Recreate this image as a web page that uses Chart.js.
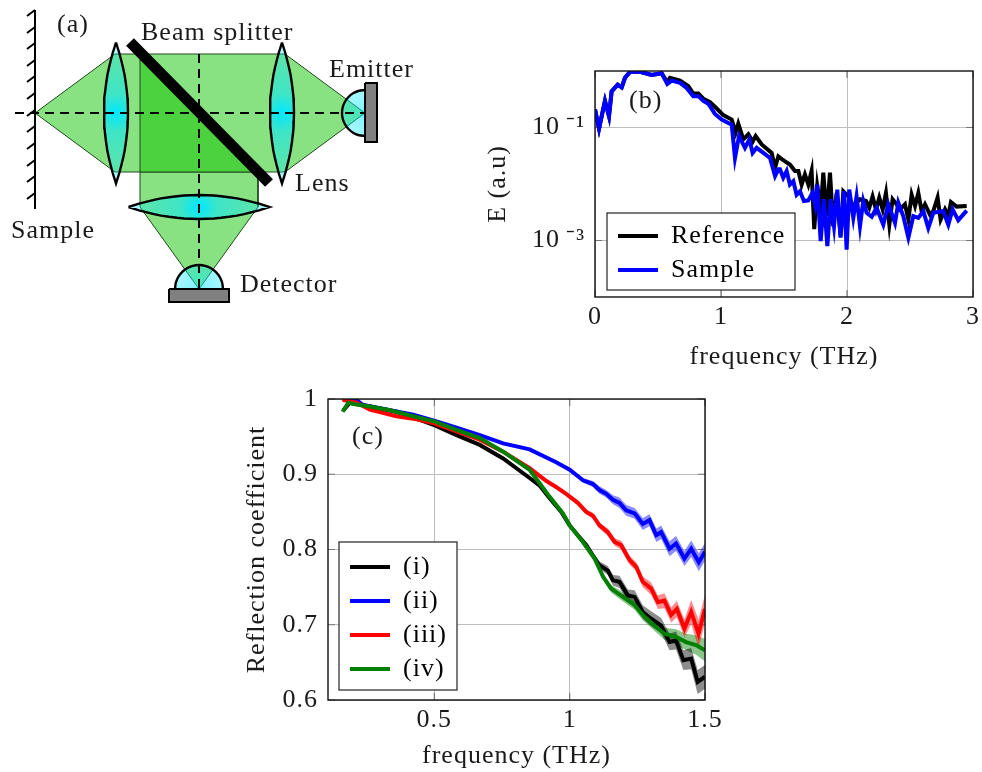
<!DOCTYPE html>
<html><head><meta charset="utf-8">
<script src="https://cdn.jsdelivr.net/npm/chart.js@4"></script>
<style>
html,body{margin:0;padding:0;background:#fff;overflow:hidden;width:982px;height:772px}
canvas{position:absolute;display:block}
</style></head><body>
<canvas id="diagram" style="left:0;top:0" width="440" height="310"></canvas>
<canvas id="spectrum" style="left:483px;top:41px" width="522" height="332"></canvas>
<canvas id="reflect" style="left:242px;top:369px" width="493" height="403"></canvas>
<script>
// ---------- panel (b): spectrum (log10 of E) ----------
const refFreq = [0,.032,.079,.111,.132,.180,.212,.238,.278,.357,.450,.529,.574,.595,.675,.741,.780,.820,.860,.913,.960,1.018,1.085,1.116,1.137,1.177,1.217,1.251,1.275,1.323,1.402,1.429,1.455,1.489,1.508,1.547,1.587,1.614,1.640,1.666,1.693,1.719,1.740,1.764,1.791,1.812,1.838,1.865,1.891,1.918,1.949,1.971,2.010,2.050,2.103,2.151,2.177,2.203,2.230,2.256,2.283,2.309,2.336,2.362,2.394,2.420,2.460,2.487,2.513,2.540,2.566,2.592,2.619,2.658,2.685,2.719,2.743,2.778,2.804,2.825,2.870,2.950];
const refLogE = [-.68,-1.02,-.53,-.80,-.36,-.24,-.29,-.12,-.015,-.015,-.07,-.04,-.20,-.12,-.17,-.27,-.40,-.40,-.49,-.55,-.65,-.78,-.86,-1.09,-.93,-1.21,-1.12,-1.25,-1.15,-1.30,-1.45,-1.71,-1.51,-1.57,-1.60,-1.655,-1.77,-1.77,-2.01,-1.83,-2.01,-1.77,-2.80,-2.04,-2.45,-1.80,-2.57,-1.80,-2.75,-2.16,-2.92,-2.13,-2.22,-2.39,-2.27,-2.30,-2.42,-2.22,-2.45,-2.24,-2.45,-2.16,-2.72,-2.27,-2.36,-2.45,-2.36,-2.63,-2.19,-2.39,-2.16,-2.48,-2.36,-2.54,-2.48,-2.24,-2.63,-2.45,-2.57,-2.32,-2.40,-2.39];
const smpFreq = [0,.032,.079,.111,.132,.180,.212,.238,.278,.357,.450,.529,.574,.608,.675,.727,.780,.820,.860,.899,.952,1.005,1.085,1.111,1.143,1.190,1.225,1.251,1.283,1.336,1.389,1.429,1.455,1.468,1.494,1.521,1.547,1.574,1.600,1.627,1.658,1.693,1.725,1.746,1.764,1.791,1.817,1.844,1.870,1.897,1.923,1.949,1.976,1.997,2.018,2.050,2.076,2.103,2.129,2.156,2.196,2.235,2.288,2.328,2.381,2.407,2.447,2.487,2.526,2.566,2.606,2.645,2.685,2.764,2.804,2.838,2.883,2.950];
const smpLogE = [-.68,-1.02,-.53,-.80,-.36,-.24,-.29,-.12,-.015,-.015,-.07,-.04,-.23,-.17,-.21,-.30,-.445,-.445,-.53,-.58,-.76,-.86,-.95,-1.54,-1.15,-1.36,-1.21,-1.45,-1.36,-1.45,-1.54,-1.86,-1.74,-1.74,-1.89,-1.77,-2.01,-1.95,-2.19,-2.13,-2.30,-2.29,-2.16,-2.36,-2.01,-3.01,-2.27,-3.10,-2.27,-2.75,-2.10,-2.95,-2.13,-3.16,-2.10,-2.60,-2.22,-2.75,-2.30,-2.51,-2.58,-2.42,-2.72,-2.36,-2.69,-2.33,-2.57,-2.95,-2.57,-2.60,-2.48,-2.78,-2.51,-2.48,-2.72,-2.45,-2.64,-2.47];
const specNames = ['Reference','Sample'];
const specColors = ['#000000','#0000ff'];
const specXTicks = [0,1,2,3];
const specYTicks = [1e-1,1e-3];

// ---------- panel (c): reflection coefficient, value and half-width of the shaded band ----------
const blackFreq = [.164,.188,.262,.36,.434,.502,.582,.668,.754,.852,.889,.926,.969,1.0,1.03,1.061,1.086,1.11,1.141,1.16,1.184,1.215,1.24,1.27,1.301,1.338,1.369,1.393,1.42,1.449,1.473,1.5];
const blackVal  = [.985,.995,.990,.983,.974,.965,.952,.939,.921,.895,.885,.868,.850,.832,.819,.806,.792,.779,.772,.759,.757,.739,.737,.717,.708,.699,.677,.679,.653,.655,.624,.631];
const blackBand = [0,0,0,0,0,0,0,0,0,0,0,0,.001,.001,.002,.003,.004,.005,.006,.007,.008,.008,.009,.009,.010,.010,.011,.012,.013,.014,.016,.016];
const blueFreq = [.161,.207,.237,.336,.422,.502,.582,.668,.754,.852,.95,1.0,1.049,1.086,1.11,1.135,1.16,1.184,1.209,1.24,1.27,1.295,1.32,1.338,1.369,1.393,1.424,1.449,1.477,1.5];
const blueVal  = [1.0,1.0,.992,.985,.979,.971,.962,.952,.941,.933,.916,.906,.892,.887,.879,.874,.866,.862,.852,.848,.834,.839,.819,.823,.801,.808,.788,.801,.783,.797];
const blueBand = [0,0,0,0,0,0,0,0,0,0,.001,.002,.003,.004,.005,.005,.006,.007,.007,.007,.008,.008,.009,.009,.010,.010,.010,.011,.012,.012];
const redFreq = [.161,.213,.262,.36,.434,.496,.582,.668,.754,.852,.914,.95,.987,1.03,1.061,1.086,1.11,1.141,1.166,1.19,1.221,1.246,1.27,1.301,1.326,1.35,1.375,1.396,1.424,1.449,1.476,1.5];
const redVal  = [.999,.995,.986,.977,.973,.968,.957,.946,.930,.908,.891,.883,.874,.862,.850,.845,.832,.823,.810,.806,.786,.777,.757,.748,.730,.732,.713,.721,.695,.717,.688,.721];
const redBand = [0,0,0,0,0,0,0,0,0,0,0,.001,.002,.003,.003,.004,.004,.005,.005,.006,.006,.006,.007,.008,.009,.010,.010,.011,.012,.016,.019,.019];
const greenFreq = [.161,.182,.207,.262,.336,.422,.502,.582,.668,.754,.852,.889,.926,.975,1.0,1.049,1.092,1.123,1.153,1.197,1.24,1.27,1.313,1.35,1.393,1.43,1.467,1.5];
const greenVal  = [.983,.995,.993,.990,.985,.977,.970,.959,.948,.930,.906,.888,.870,.848,.832,.810,.788,.764,.748,.737,.726,.713,.699,.688,.684,.677,.673,.666];
const greenBand = [0,0,0,0,0,0,0,0,0,0,0,0,0,0,0,.002,.003,.004,.005,.006,.006,.007,.007,.008,.010,.011,.013,.015];
const reflNames = ['(i)','(ii)','(iii)','(iv)'];
const reflColors = ['#000000','#0000ff','#ff0000','#007f00'];
const reflBands = ['rgba(0,0,0,.45)','rgba(0,0,255,.45)','rgba(255,0,0,.45)','rgba(0,127,0,.45)'];
const reflXTicks = [.5,1,1.5];
const reflYTicks = [.6,.7,.8,.9,1];

// ---------- panel (a): schematic, in diagram units ----------
const beamOuter = [[35,113],[115,54],[285,54],[365,113],[285,172],[115,172],[35,113]];
const beamDown = [[140,172],[258,172],[258,207],[199,289],[140,207],[140,172]];
const beamOverlap = [[140,54],[258,172],[140,172],[140,54]];
const lensAlong = [-70.5,-60,-52,-45,-38,-30,-22,-15,-8,0,8,15,22,30,38,45,52,60,70.5];
const lensAcross = [0,3.3,5.4,7.1,8.6,9.8,10.8,11.5,11.8,12,11.8,11.5,10.8,9.8,8.6,7.1,5.4,3.3,0];
const domeCos = [1,.966,.866,.707,.5,.259,0,-.259,-.5,-.707,-.866,-.966,-1];
const domeSin = [0,.259,.5,.707,.866,.966,1,.966,.866,.707,.5,.259,0];
const hatchRows = [10,27,43,60,76,93,110,126,143,160,176,193];
const diagramLabels = [['(a)',57,25],['Beam splitter',141,33],['Emitter',329,70],['Lens',295,184],['Sample',11,231],['Detector',240,285]];

const FONT = '"Liberation Serif"';
const TEXT = '#1a1a1a';
const SIZE = 26;
Chart.defaults.font.family = FONT;
Chart.defaults.font.size = SIZE;
Chart.defaults.color = TEXT;
const pts = (xs, ys) => xs.map((x, i) => ({x, y: ys[i]}));

function lensPts(cx, cy, vertical) {
  const one = (a, b) => vertical ? {x: cx + b, y: cy + a} : {x: cx + a, y: cy + b};
  const side1 = lensAlong.map((a, i) => one(a, lensAcross[i]));
  const side2 = lensAlong.map((a, i) => one(a, -lensAcross[i])).reverse();
  return side1.concat(side2);
}
function cyanGlow(cx, cy, r, hi, mid, lo) {
  return c => {
    const g = c.chart.ctx.createRadialGradient(cx, cy, 0, cx, cy, r);
    g.addColorStop(0, `rgba(0,232,255,${hi})`);
    g.addColorStop(.3, `rgba(0,232,255,${mid})`);
    g.addColorStop(1, `rgba(0,232,255,${lo})`);
    return g;
  };
}
const shape = (data, bg, bc, bw, extra) => Object.assign({type: 'line', data, backgroundColor: bg, borderColor: bc, borderWidth: bw, fill: 'shape', pointRadius: 0, tension: 0, clip: false}, extra || {});
const stroke = (data, bc, bw, extra) => Object.assign({type: 'line', data, borderColor: bc, borderWidth: bw, fill: false, pointRadius: 0, tension: 0, clip: false, spanGaps: false}, extra || {});
const xy = a => a.map(p => ({x: p[0], y: p[1]}));
const LIGHT = '#88e282', DARK = '#4bd23e', EDGE = '#1c4a1c';

const emitterDome = domeCos.map((c, i) => ({x: 365 - domeSin[i] * 23, y: 113 - c * 23}));
const detectorDome = domeCos.map((c, i) => ({x: 199 + c * 24, y: 289 - domeSin[i] * 24}));
const hatch = hatchRows.flatMap(y => [{x: 35, y}, {x: 27, y: y + 6}, {x: 35, y: null}]);

const diagramSets = [
  shape(xy(beamOuter), LIGHT, EDGE, 1),
  shape(xy(beamDown), LIGHT, EDGE, 1),
  shape(xy(beamOverlap), DARK, EDGE, 1),
  shape(lensPts(116, 113, true), cyanGlow(116, 113, 62, 1, .55, .3), '#000', 2.4),
  shape(lensPts(282, 113, true), cyanGlow(282, 113, 62, 1, .55, .3), '#000', 2.4),
  shape(lensPts(199, 207, false), cyanGlow(199, 207, 62, 1, .55, .3), '#000', 2.4),
  shape(emitterDome, cyanGlow(365, 113, 23, .6, .45, .35), '#000', 2.4, {tension: .3}),
  shape(detectorDome, cyanGlow(199, 289, 24, .6, .45, .35), '#000', 2.4, {tension: .3}),
  stroke([{x: 15, y: 113}, {x: 365, y: 113}], '#000', 2, {borderDash: [9, 6]}),
  stroke([{x: 199, y: 54}, {x: 199, y: 289}], '#000', 2, {borderDash: [9, 6]}),
  stroke([{x: 35, y: 10}, {x: 35, y: 209}], '#000', 2),
  stroke(hatch, '#000', 2),
  stroke([{x: 130, y: 42}, {x: 269, y: 183}], '#000', 11),
  shape(xy([[365, 83], [377, 83], [377, 142], [365, 142], [365, 83]]), '#808080', '#000', 2),
  shape(xy([[169, 289], [229, 289], [229, 302], [169, 302], [169, 289]]), '#808080', '#000', 2)
];
diagramSets.forEach((d, i) => { d.order = diagramSets.length - i; });

const spacing = {id: 'spacing', beforeDraw(c) { c.ctx.letterSpacing = '1px'; }};
const labelsPlugin = items => ({id: 'labels', afterDraw(c) {
  const x = c.ctx; x.save();
  x.font = `${SIZE}px ${FONT}`; x.fillStyle = TEXT; x.textAlign = 'left'; x.textBaseline = 'middle';
  items.forEach(t => x.fillText(t[0], t[1], t[2]));
  x.restore();
}});
new Chart(document.getElementById('diagram'), {
  type: 'line',
  data: {datasets: diagramSets},
  options: {responsive: false, animation: false, parsing: true,
    layout: {padding: 0},
    plugins: {legend: {display: false}, tooltip: {enabled: false}},
    scales: {x: {type: 'linear', display: false, min: 0, max: 440}, y: {type: 'linear', display: false, reverse: true, min: 0, max: 310}}},
  plugins: [spacing, labelsPlugin(diagramLabels)]
});

function framePlugin(box, rowOrigin) {
  return {
    id: 'frame',
    beforeLayout(c) {
      const lg = c.legend;
      lg._layers = () => [{z: 5, draw() {
        const x = c.ctx; x.save();
        x.fillStyle = '#fff'; x.fillRect(box.l, box.t, box.r - box.l, box.b - box.t);
        x.strokeStyle = '#222'; x.lineWidth = 1.2; x.strokeRect(box.l, box.t, box.r - box.l, box.b - box.t);
        x.restore();
        lg.left = rowOrigin.x; lg.top = rowOrigin.y; lg.right = box.r; lg.bottom = box.b + 60;
        lg.draw();
      }}];
    },
    beforeDatasetsDraw(c) {
      const x = c.ctx, a = c.chartArea; x.save();
      x.strokeStyle = '#777'; x.lineWidth = 1.2; x.beginPath();
      c.scales.x.ticks.forEach(t => { const p = c.scales.x.getPixelForValue(t.value); x.moveTo(p, a.bottom); x.lineTo(p, a.bottom - 7); x.moveTo(p, a.top); x.lineTo(p, a.top + 7); });
      c.scales.y.ticks.forEach(t => { const p = c.scales.y.getPixelForValue(t.value); x.moveTo(a.left, p); x.lineTo(a.left + 7, p); x.moveTo(a.right, p); x.lineTo(a.right - 7, p); });
      x.stroke(); x.restore();
    },
    afterDatasetsDraw(c) {
      const x = c.ctx, a = c.chartArea; x.save();
      x.strokeStyle = '#111'; x.lineWidth = 1.4;
      x.strokeRect(a.left, a.top, a.right - a.left, a.bottom - a.top);
      x.restore();
    }
  };
}
const legendOpts = (names, colors) => ({
  display: true, position: 'chartArea', align: 'start',
  labels: {boxWidth: 40, boxHeight: 4, padding: 8, color: TEXT, font: {family: FONT, size: SIZE},
    generateLabels: () => names.map((n, i) => ({text: n, fillStyle: colors[i], strokeStyle: colors[i], lineWidth: 0, hidden: false, datasetIndex: i}))}
});
const GRID = '#bdbdbd';
const axisTitle = t => ({display: true, text: t, color: TEXT, font: {family: FONT, size: SIZE}, padding: {top: 0, bottom: 0}});

new Chart(document.getElementById('spectrum'), {
  type: 'line',
  data: {datasets: [
    {label: specNames[0], data: pts(refFreq, refLogE.map(v => 10 ** v)), borderColor: specColors[0], borderWidth: 4, pointRadius: 0, tension: 0, order: 2},
    {label: specNames[1], data: pts(smpFreq, smpLogE.map(v => 10 ** v)), borderColor: specColors[1], borderWidth: 4, pointRadius: 0, tension: 0, order: 1}
  ]},
  options: {responsive: false, animation: false,
    layout: {padding: {top: 30, right: 32, left: 0, bottom: 0}},
    plugins: {legend: legendOpts(specNames, specColors), tooltip: {enabled: false}},
    scales: {
      x: {type: 'linear', min: 0, max: 3,
        afterBuildTicks: s => { s.ticks = specXTicks.map(value => ({value})); },
        afterFit: s => { s.height = 76; },
        grid: {color: GRID, lineWidth: 1, drawTicks: false}, border: {display: false},
        ticks: {padding: 5, maxRotation: 0, autoSkip: false, color: TEXT, callback: v => String(v)},
        title: axisTitle('frequency (THz)')},
      y: {type: 'logarithmic', min: 1e-4, max: 1,
        afterBuildTicks: s => { s.ticks = specYTicks.map(value => ({value})); },
        afterFit: s => { s.width = 112; },
        grid: {color: GRID, lineWidth: 1, drawTicks: false}, border: {display: false},
        ticks: {padding: 10, autoSkip: false, color: TEXT, callback: v => v > 1e-2 ? '10\u2009⁻¹' : '10\u2009⁻³'},
        title: axisTitle('E (a.u)')}
    }},
  plugins: [spacing, framePlugin({l: 124, t: 172, r: 312, b: 249}, {x: 127, y: 174}), labelsPlugin([['(b)', 146, 60]])]
});

const bandSets = (fs, vs, bs, i) => [
  {data: pts(fs, vs.map((v, k) => v + bs[k])), borderWidth: 0, pointRadius: 0, tension: 0, backgroundColor: reflBands[i], fill: '+1', order: 10},
  {data: pts(fs, vs.map((v, k) => v - bs[k])), borderWidth: 0, pointRadius: 0, tension: 0, fill: false, order: 10},
  {label: reflNames[i], data: pts(fs, vs), borderColor: reflColors[i], borderWidth: 4, pointRadius: 0, tension: 0, fill: false, order: 4 - i}
];
new Chart(document.getElementById('reflect'), {
  type: 'line',
  data: {datasets: [].concat(
    bandSets(blackFreq, blackVal, blackBand, 0),
    bandSets(blueFreq, blueVal, blueBand, 1),
    bandSets(redFreq, redVal, redBand, 2),
    bandSets(greenFreq, greenVal, greenBand, 3))},
  options: {responsive: false, animation: false,
    layout: {padding: {top: 30, right: 30, left: 0, bottom: 0}},
    plugins: {legend: legendOpts(reflNames, reflColors), tooltip: {enabled: false}, filler: {propagate: false}},
    scales: {
      x: {type: 'linear', min: .107, max: 1.5,
        afterBuildTicks: s => { s.ticks = reflXTicks.map(value => ({value})); },
        afterFit: s => { s.height = 72; },
        grid: {color: GRID, lineWidth: 1, drawTicks: false}, border: {display: false},
        ticks: {padding: 5, maxRotation: 0, autoSkip: false, color: TEXT, callback: v => String(v)},
        title: axisTitle('frequency (THz)')},
      y: {type: 'linear', min: .6, max: 1,
        afterBuildTicks: s => { s.ticks = reflYTicks.map(value => ({value})); },
        afterFit: s => { s.width = 86; },
        grid: {color: GRID, lineWidth: 1, drawTicks: false}, border: {display: false},
        ticks: {padding: 10, autoSkip: false, color: TEXT, callback: v => String(v)},
        title: axisTitle('Reflection coefficient')}
    }},
  plugins: [spacing, framePlugin({l: 97, t: 173, r: 215, b: 321}, {x: 100, y: 177}), labelsPlugin([['(c)', 110, 68]])]
});
</script>
</body></html>
